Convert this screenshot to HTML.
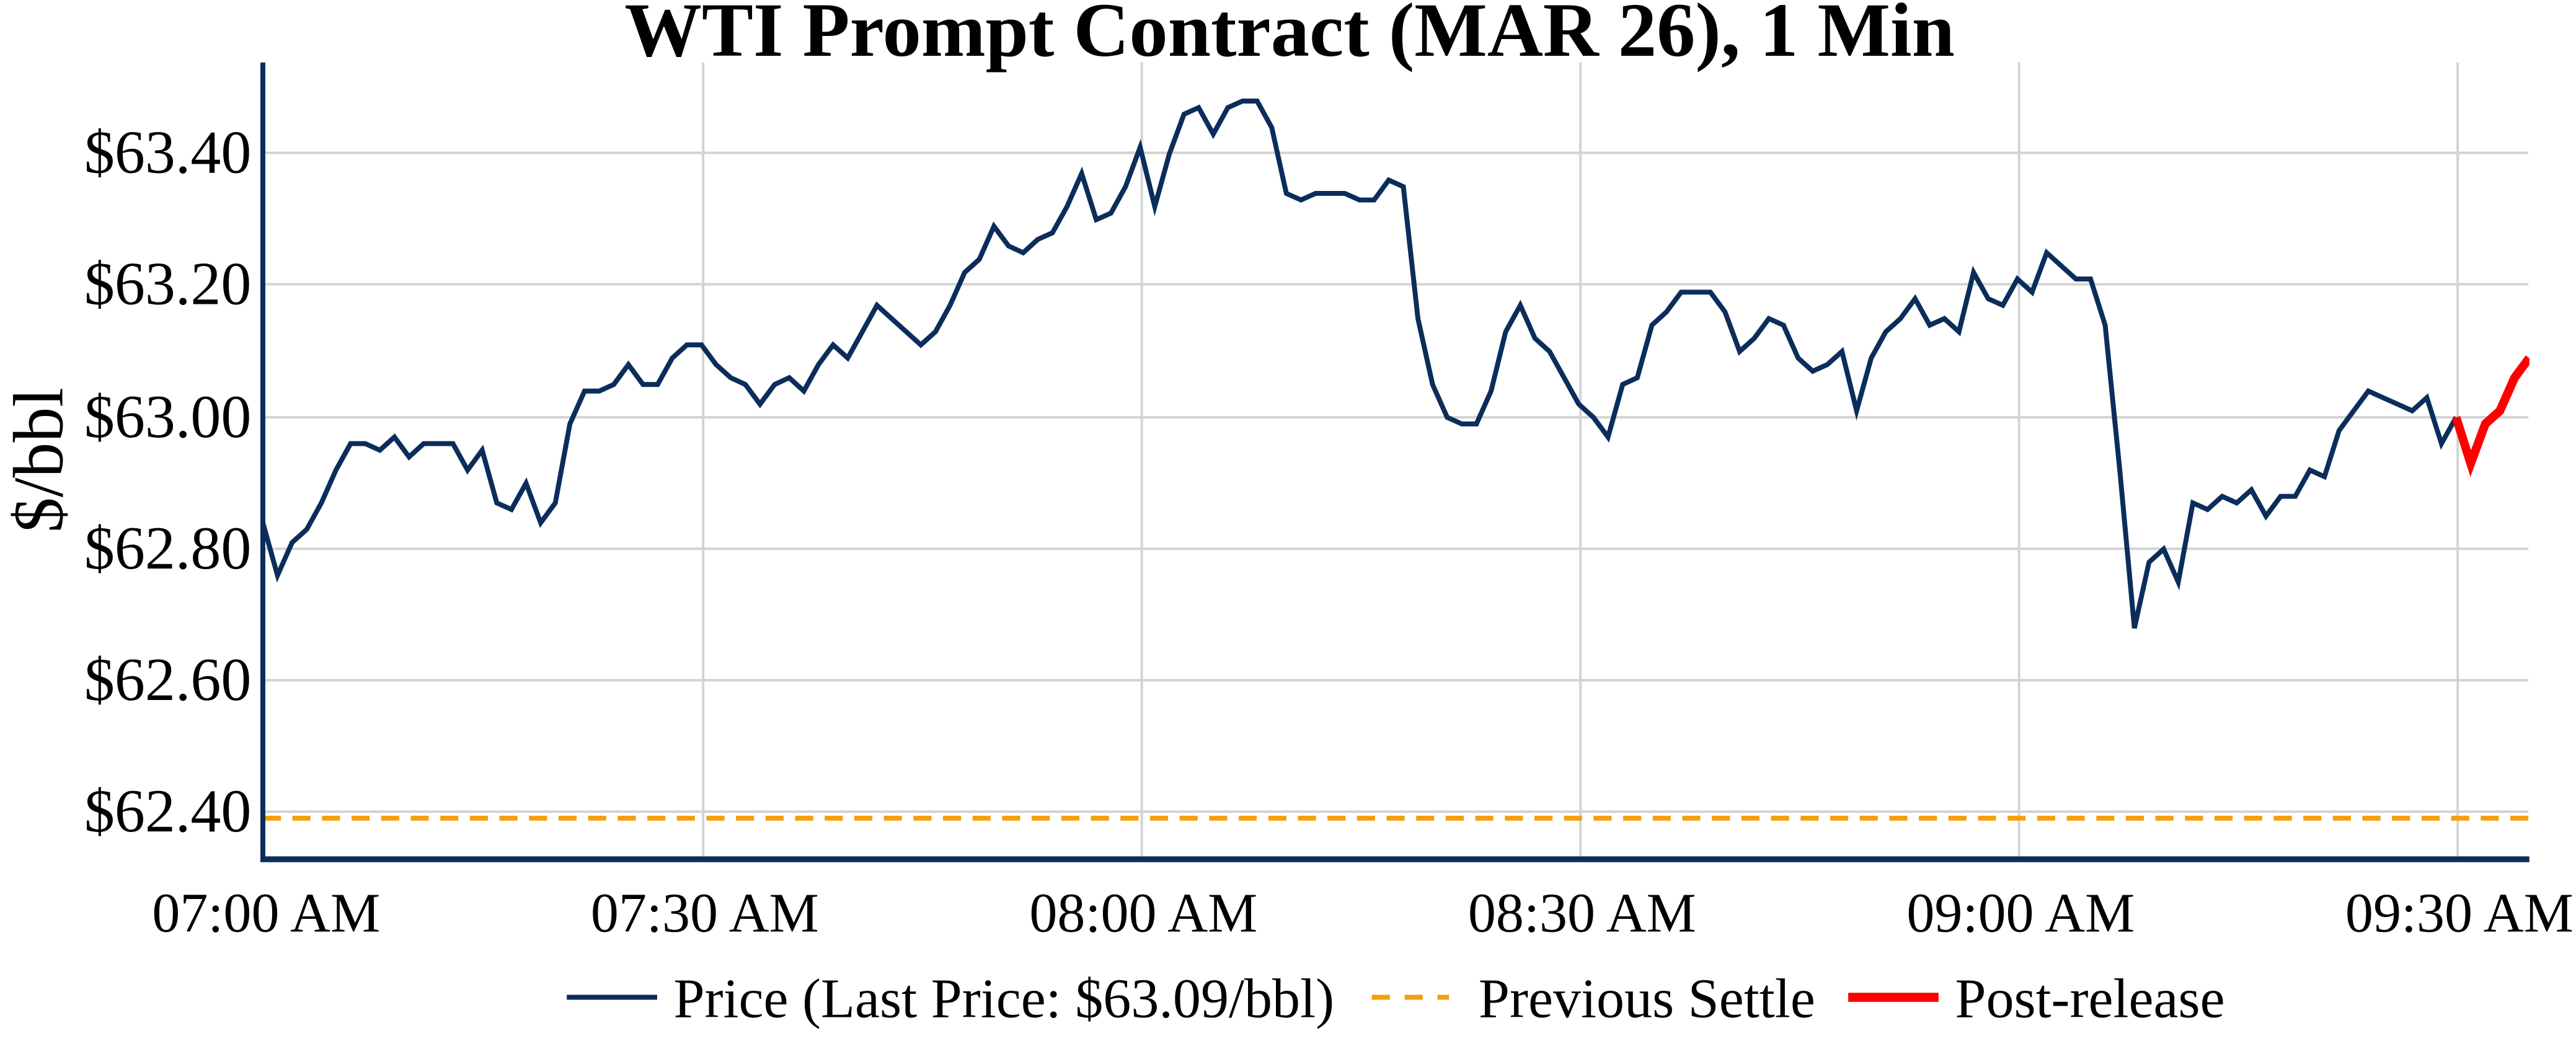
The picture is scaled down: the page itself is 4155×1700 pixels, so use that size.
<!DOCTYPE html>
<html><head><meta charset="utf-8"><style>
html,body{margin:0;padding:0;background:#fff;}
svg{display:block;}
text{font-family:"Liberation Serif",serif;}
</style></head><body>
<svg id="s" width="4155" height="1700" viewBox="0 0 1568 641.5" xmlns="http://www.w3.org/2000/svg">
<rect width="1568" height="641.5" fill="#fff"/>
<g stroke="#d3d3d3" stroke-width="1.5">
<line x1="160" y1="93" x2="1539" y2="93"/>
<line x1="160" y1="173" x2="1539" y2="173"/>
<line x1="160" y1="254" x2="1539" y2="254"/>
<line x1="160" y1="334" x2="1539" y2="334"/>
<line x1="160" y1="414" x2="1539" y2="414"/>
<line x1="160" y1="494" x2="1539" y2="494"/>
<line x1="428" y1="38" x2="428" y2="523"/>
<line x1="695" y1="38" x2="695" y2="523"/>
<line x1="962" y1="38" x2="962" y2="523"/>
<line x1="1229" y1="38" x2="1229" y2="523"/>
<line x1="1496" y1="38" x2="1496" y2="523"/>
</g>
<line x1="160" y1="498" x2="1539" y2="498" stroke="#f59e0b" stroke-width="3" stroke-dasharray="11,7"/>
<defs><clipPath id="c"><rect x="160" y="30" width="1379.6" height="495"/></clipPath></defs>
<g clip-path="url(#c)">
<polyline id="p1" fill="none" stroke="#0b2d5b" stroke-width="3" stroke-linejoin="miter"/>
<polyline id="p2" fill="none" stroke="#ff0000" stroke-width="5.3" stroke-linejoin="miter"/>
</g>
<line x1="160" y1="38" x2="160" y2="524" stroke="#0b2d5b" stroke-width="3"/>
<line x1="158.5" y1="523" x2="1539.6" y2="523" stroke="#0b2d5b" stroke-width="3.5"/>
<text x="785" y="34" text-anchor="middle" font-size="47" font-weight="bold">WTI Prompt Contract (MAR 26), 1 Min</text>
<g font-size="37" text-anchor="end">
<text x="153" y="105">$63.40</text>
<text x="153" y="185">$63.20</text>
<text x="153" y="266">$63.00</text>
<text x="153" y="346">$62.80</text>
<text x="153" y="426">$62.60</text>
<text x="153" y="506">$62.40</text>
</g>
<text transform="translate(38,280) rotate(-90)" font-size="43" text-anchor="middle">$/bbl</text>
<g font-size="34" text-anchor="middle">
<text x="162" y="567">07:00 AM</text>
<text x="429" y="567">07:30 AM</text>
<text x="696" y="567">08:00 AM</text>
<text x="963" y="567">08:30 AM</text>
<text x="1230" y="567">09:00 AM</text>
<text x="1497" y="567">09:30 AM</text>
</g>
<line x1="345" y1="607" x2="400" y2="607" stroke="#0b2d5b" stroke-width="3"/>
<text x="410" y="619" font-size="34">Price (Last Price: $63.09/bbl)</text>
<line x1="835" y1="607" x2="882" y2="607" stroke="#f59e0b" stroke-width="3" stroke-dasharray="11,9"/>
<text x="900" y="619" font-size="34">Previous Settle</text>
<line x1="1125" y1="607" x2="1180" y2="607" stroke="#ff0000" stroke-width="5.5"/>
<text x="1190" y="619" font-size="34">Post-release</text>
</svg>
<script>
var d=[62.84,62.76,62.81,62.83,62.87,62.92,62.96,62.96,62.95,62.97,62.94,62.96,62.96,62.96,62.92,62.95,62.87,62.86,62.90,62.84,62.87,62.99,63.04,63.04,63.05,63.08,63.05,63.05,63.09,63.11,
63.11,63.08,63.06,63.05,63.02,63.05,63.06,63.04,63.08,63.11,63.09,63.13,63.17,63.15,63.13,63.11,63.13,63.17,63.22,63.24,63.29,63.26,63.25,63.27,63.28,63.32,63.37,63.30,63.31,63.35,
63.41,63.32,63.40,63.46,63.47,63.43,63.47,63.48,63.48,63.44,63.34,63.33,63.34,63.34,63.34,63.33,63.33,63.36,63.35,63.15,63.05,63.00,62.99,62.99,63.04,63.13,63.17,63.12,63.10,63.06,
63.02,63.00,62.97,63.05,63.06,63.14,63.16,63.19,63.19,63.19,63.16,63.10,63.12,63.15,63.14,63.09,63.07,63.08,63.10,63.01,63.09,63.13,63.15,63.18,63.14,63.15,63.13,63.22,63.18,63.17,
63.21,63.19,63.25,63.23,63.21,63.21,63.14,62.92,62.68,62.78,62.80,62.75,62.87,62.86,62.88,62.87,62.89,62.85,62.88,62.88,62.92,62.91,62.98,63.01,63.04,63.03,63.02,63.01,63.03,62.96,63.00];
var r=[63.00,62.93,62.99,63.01,63.06,63.09];
function X(i){return 160+i*8.9;}function Y(p){return 254-(p-63)*401;}
document.getElementById('p1').setAttribute('points',d.map(function(p,i){return X(i).toFixed(1)+','+Y(p).toFixed(1)}).join(' '));
document.getElementById('p2').setAttribute('points',r.map(function(p,i){return X(150+i).toFixed(1)+','+Y(p).toFixed(1)}).join(' '));
</script>
</body></html>
